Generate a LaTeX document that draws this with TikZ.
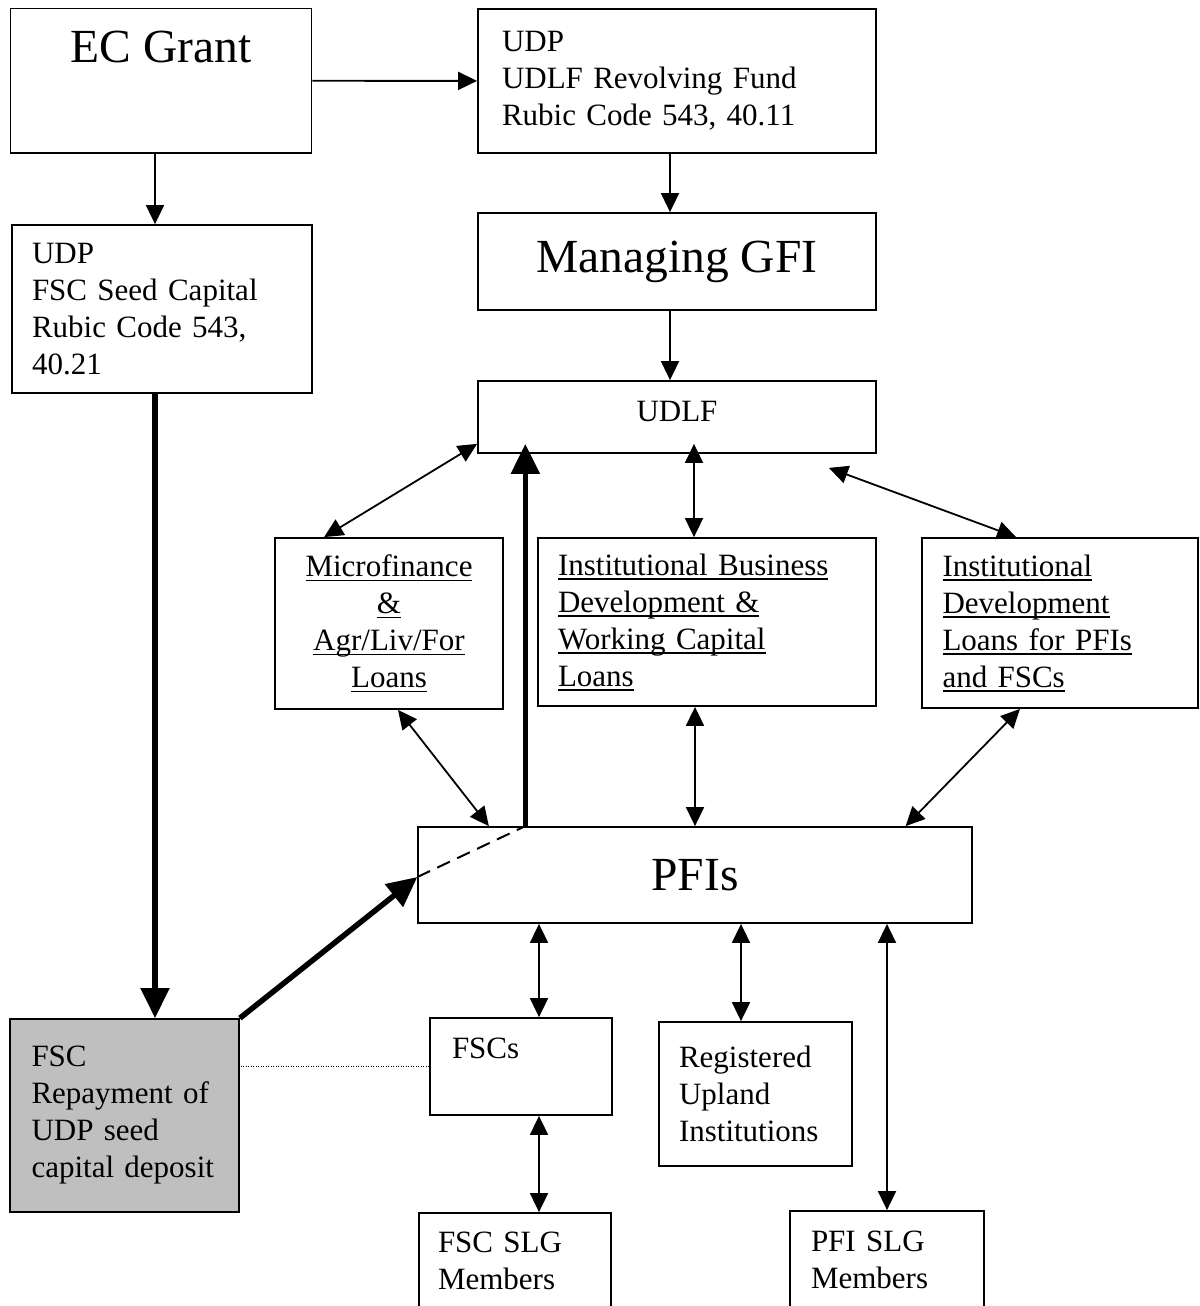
\documentclass[tikz,border=0pt]{standalone}
\usepackage{fontspec}
\setmainfont{Liberation Serif}
\usetikzlibrary{arrows.meta}
\newsavebox{\ulnbox}
\newcommand{\uln}[1]{\leavevmode\sbox{\ulnbox}{#1}\rlap{\rule[-4.5pt]{\wd\ulnbox}{1.5pt}}\usebox{\ulnbox}}

\begin{document}
\begin{tikzpicture}[
    x=1pt, y=-1pt,
    unit/.style={draw, line width=1.8pt, inner sep=0pt, align=left,
                 font=\fontsize{31}{37}\selectfont},
    bigunit/.style={unit, align=center, font=\fontsize{47.5}{54}\selectfont},
    feed/.style={-{Triangle[length=19pt,width=18pt]}, line width=1.8pt},
    swap/.style={{Triangle[length=19pt,width=18pt]}-{Triangle[length=19pt,width=18pt]},
                 line width=1.8pt},
    heavy/.style={-{Triangle[length=30pt,width=28pt]}, line width=5.5pt}
  ]
  \useasboundingbox (0,0) rectangle (1199,1306);

  \node[bigunit, minimum width=301pt, minimum height=144.5pt] (ec) at (161,80.75) {EC Grant\\[13pt] ~};
  \node[unit, text width=350pt, minimum width=398pt, minimum height=144pt] (udp) at (677,81)
    {UDP\\ UDLF Revolving Fund\\ Rubic Code 543, 40.11};
  \node[bigunit, minimum width=398pt, minimum height=97pt] (gfi) at (677,261.5) {Managing GFI};
  \node[unit, text width=260pt, minimum width=300pt, minimum height=168pt] (seed) at (162,309)
    {UDP\\ FSC Seed Capital\\ Rubic Code 543,\\ 40.21};
  \node[unit, align=center, text depth=12pt, minimum width=398pt, minimum height=72pt] (udlf)
    at (677,417) {UDLF};

  \node[unit, align=center, text width=200pt, minimum width=228pt, minimum height=171pt] (micro)
    at (389,623.5) {\uln{Microfinance}\\ \uln{\&}\\ \uln{Agr/Liv/For}\\ \uln{Loans}};
  \node[unit, text width=298pt, minimum width=338pt, minimum height=168pt] (ibd) at (707,622)
    {\uln{Institutional Business}\\ \uln{Development \&}\\ \uln{Working Capital}\\ \uln{Loans}};
  \node[unit, text width=235pt, minimum width=276pt, minimum height=170pt] (idl) at (1060,623)
    {\uln{Institutional}\\ \uln{Development}\\ \uln{Loans for PFIs}\\ \uln{and FSCs}};

  \node[bigunit, minimum width=553.5pt, minimum height=96pt] (pfi) at (695,875) {PFIs};

  \node[unit, fill=black!25, text width=186pt, minimum width=229pt, minimum height=193pt] (repay)
    at (124.5,1115.5) {FSC\\ Repayment of\\ UDP seed\\ capital deposit};
  \node[unit, text width=138pt, minimum width=182pt, minimum height=97pt] (fsc) at (521,1066.5) {FSCs\\ ~};
  \node[unit, text width=153pt, minimum width=193pt, minimum height=144pt] (rui) at (755.5,1094)
    {Registered\\ Upland\\ Institutions};
  \node[unit, text width=154pt, minimum width=192pt, minimum height=96pt] (fslg) at (515,1261)
    {FSC SLG\\ Members};
  \node[unit, text width=152pt, minimum width=194pt, minimum height=98pt] (pslg) at (887,1260)
    {PFI SLG\\ Members};

  % grant and fund flows
  \draw[feed] (ec) -- (udp);
  \draw[feed] ([xshift=-6pt]ec.south) -- ([xshift=-6pt]ec.south |- seed.north);
  \draw[feed] ([xshift=-7pt]udp.south) -- ([xshift=-7pt]gfi.north);
  \draw[feed] ([xshift=-7pt]gfi.south) -- ([xshift=-7pt]gfi.south |- udlf.north);

  % loan windows
  \draw[swap] ([yshift=10pt]udlf.south west) -- ([xshift=50pt]micro.north west);
  \draw[swap, shorten >=-10pt] ([xshift=-13pt]ibd.north) -- ([xshift=-13pt]ibd.north |- udlf.south);
  \draw[swap] ([xshift=-48pt,yshift=-14pt]udlf.south east) -- ([xshift=95pt]idl.north west);
  \draw[swap] ([xshift=9pt]micro.south) -- ([xshift=71.5pt]pfi.north west);
  \draw[swap] ([xshift=-12pt]ibd.south) -- ([xshift=-12pt]ibd.south |- pfi.north);
  \draw[swap] ([xshift=-40pt]idl.south) -- ([xshift=-67pt]pfi.north east);

  % below the PFIs
  \draw[swap] ([xshift=18pt]fsc.north |- pfi.south) -- ([xshift=18pt]fsc.north);
  \draw[swap] ([xshift=-14.5pt]rui.north |- pfi.south) -- ([xshift=-14.5pt]rui.north);
  \draw[swap] (pslg.north |- pfi.south) -- (pslg.north);
  \draw[swap] ([xshift=18pt]fsc.south) -- ([xshift=18pt]fsc.south |- fslg.north);

  % seed capital loop
  \coordinate (rise) at ([xshift=108pt]pfi.north west);
  \draw[heavy] ([xshift=-7pt]seed.south) -- ([xshift=-7pt]seed.south |- repay.north);
  \draw[heavy] (repay.north east) -- ([yshift=-2pt]pfi.west);
  \draw[line width=2pt, dash pattern=on 14pt off 8pt] ([yshift=-2pt]pfi.west) -- (rise);
  \draw[heavy, shorten >=-10pt] (rise) -- (rise |- udlf.south);
  \draw[line width=1pt, dash pattern=on 1pt off 1.5pt] (fsc.west) -- (fsc.west -| repay.east);
\end{tikzpicture}
\end{document}
